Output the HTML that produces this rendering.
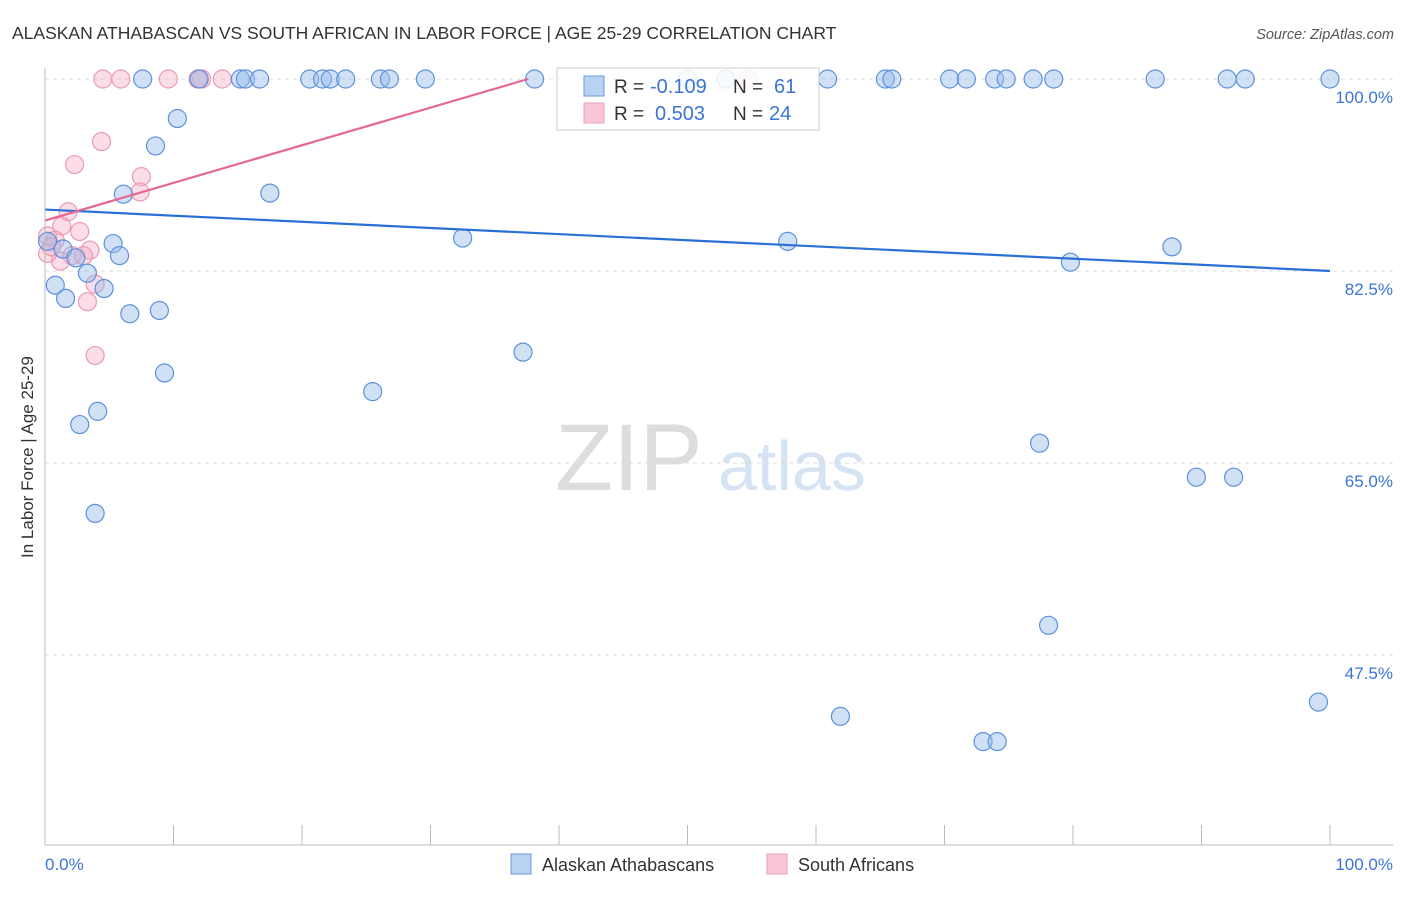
<!DOCTYPE html>
<html><head><meta charset="utf-8"><style>
body{margin:0;background:#fff;font-family:"Liberation Sans",sans-serif}
svg text{font-family:"Liberation Sans",sans-serif}
</style></head><body>
<svg id="c" width="1406" height="892">
<text x="12" y="39" font-size="17.5" fill="#333">ALASKAN ATHABASCAN VS SOUTH AFRICAN IN LABOR FORCE | AGE 25-29 CORRELATION CHART</text>
<text x="1394" y="39" font-size="14.5" fill="#555" text-anchor="end" font-style="italic">Source: ZipAtlas.com</text>
<text x="33" y="457" font-size="17" fill="#333" text-anchor="middle" transform="rotate(-90 33 457)">In Labor Force | Age 25-29</text>
<text x="555" y="490" font-size="95" fill="#ddd" font-family="Liberation Serif">ZIP</text>
<text x="718" y="490" font-size="70" fill="#d6e3f3">atlas</text>
<g id="grid"></g><g id="pts"></g><g id="lines"></g>
<line x1="45" y1="68" x2="45" y2="845" stroke="#bbb"/>
<line x1="45" y1="845" x2="1393" y2="845" stroke="#bbb"/>
<text x="45" y="870" font-size="17" fill="#3b74d6">0.0%</text>
<text x="1393" y="870" font-size="17" fill="#3b74d6" text-anchor="end">100.0%</text>
<g>
<rect x="557" y="68" width="262" height="62" fill="rgba(255,255,255,0.85)" stroke="#ccc"/>
<rect x="584" y="76" width="20" height="20" fill="#b9d2f2" stroke="#6b9ade"/>
<rect x="584" y="103" width="20" height="20" fill="#f8c6d6" stroke="#eaa0b8"/>
<text x="614" y="93" font-size="19" fill="#333">R =</text>
<text x="650" y="93" font-size="20" fill="#3b74d6">-0.109</text>
<text x="733" y="93" font-size="19" fill="#333">N =</text>
<text x="774" y="93" font-size="20" fill="#3b74d6">61</text>
<text x="614" y="120" font-size="19" fill="#333">R =</text>
<text x="655" y="120" font-size="20" fill="#3b74d6">0.503</text>
<text x="733" y="120" font-size="19" fill="#333">N =</text>
<text x="769" y="120" font-size="20" fill="#3b74d6">24</text>
</g>
<g>
<rect x="511" y="854" width="20" height="20" fill="#b9d2f2" stroke="#6b9ade"/>
<text x="542" y="871" font-size="18" fill="#333">Alaskan Athabascans</text>
<rect x="767" y="854" width="20" height="20" fill="#f8c6d6" stroke="#eaa0b8"/>
<text x="798" y="871" font-size="18" fill="#333">South Africans</text>
</g>
</svg>
<script>
const yTicks=[100,82.5,65,47.5];
const yTickLabels=["100.0%","82.5%","65.0%","47.5%"];
const blueX=[7.6,12.0,15.2,15.6,16.7,20.6,21.6,22.2,23.4,26.1,26.8,29.6,38.1,50.0,53.0,60.9,65.4,65.9,70.4,71.7,73.9,74.8,76.9,78.5,86.4,92.0,93.4,100,
10.3,8.6,6.1,17.5,5.3,5.8,32.5,57.8,87.7,79.8,3.3,0.8,4.6,1.6,6.6,8.9,37.2,9.3,25.5,4.1,2.7,77.4,89.6,92.5,3.9,78.1,61.9,73.0,74.1,99.1,0.2,1.4,2.4];
const blueY=[100,100,100,100,100,100,100,100,100,100,100,100,100,100,100,100,100,100,100,100,100,100,100,100,100,100,100,100,
96.4,93.9,89.5,89.6,85.0,83.9,85.5,85.2,84.7,83.3,82.3,81.2,80.9,80.0,78.6,78.9,75.1,73.2,71.5,69.7,68.5,66.8,63.7,63.7,60.4,50.2,41.9,39.6,39.6,43.2,85.2,84.5,83.7];
const pinkX=[4.5,5.9,9.6,12.2,13.8,11.9,54.7,4.4,2.3,7.5,7.4,1.8,2.7,0.2,1.3,0.8,3.5,2.1,1.2,0.2,3.9,3.3,3.9,0.5,3.0];
const pinkY=[100,100,100,100,100,100,100,94.3,92.2,91.1,89.7,87.9,86.1,85.7,86.6,85.3,84.4,83.9,83.4,84.1,81.3,79.7,74.8,84.7,83.9];
const blueTrendX=[0,100],blueTrendY=[88.1,82.5];
const pinkTrendX=[0,37.6],pinkTrendY=[87.1,100];
const NS="http://www.w3.org/2000/svg";
const sx=v=>45+v*12.85, sy=v=>79+(100-v)*10.97;
function mk(t,a,p){const e=document.createElementNS(NS,t);for(const k in a)e.setAttribute(k,a[k]);p.appendChild(e);return e;}
const grid=document.getElementById('grid');
yTicks.forEach((v,i)=>{
 const l=mk('line',{x1:45,x2:1393,y1:sy(v),y2:sy(v),stroke:'#ddd','stroke-dasharray':'4,4'},grid);
 
 
 const t=mk('text',{x:1393,y:sy(v)+24,'font-size':17,fill:'#3b74d6','text-anchor':'end'},grid);
 t.textContent=yTickLabels[i];
 
 
});
for(let i=0;i<=10;i++){
 const l=mk('line',{x1:sx(i*10),x2:sx(i*10),y1:825,y2:845,stroke:'#bbb'},grid);
 
 
}
const pts=document.getElementById('pts');
pinkX.forEach((x,i)=>{
 const c=mk('circle',{cx:sx(x),cy:sy(pinkY[i]),r:9,fill:'rgba(245,170,195,0.4)',stroke:'#ea9ab4','stroke-width':1.2},pts);
 
 
});
blueX.forEach((x,i)=>{
 const c=mk('circle',{cx:sx(x),cy:sy(blueY[i]),r:9,fill:'rgba(150,188,236,0.45)',stroke:'#5d91dc','stroke-width':1.2},pts);
 
 
});
const lines=document.getElementById('lines');
const bl=mk('line',{x1:sx(blueTrendX[0]),y1:sy(blueTrendY[0]),x2:sx(blueTrendX[1]),y2:sy(blueTrendY[1]),stroke:'#2a6fd6','stroke-width':2.2},lines);


const pl=mk('line',{x1:sx(pinkTrendX[0]),y1:sy(pinkTrendY[0]),x2:sx(pinkTrendX[1]),y2:sy(pinkTrendY[1]),stroke:'#e56892','stroke-width':2.2},lines);


</script>
</body></html>
